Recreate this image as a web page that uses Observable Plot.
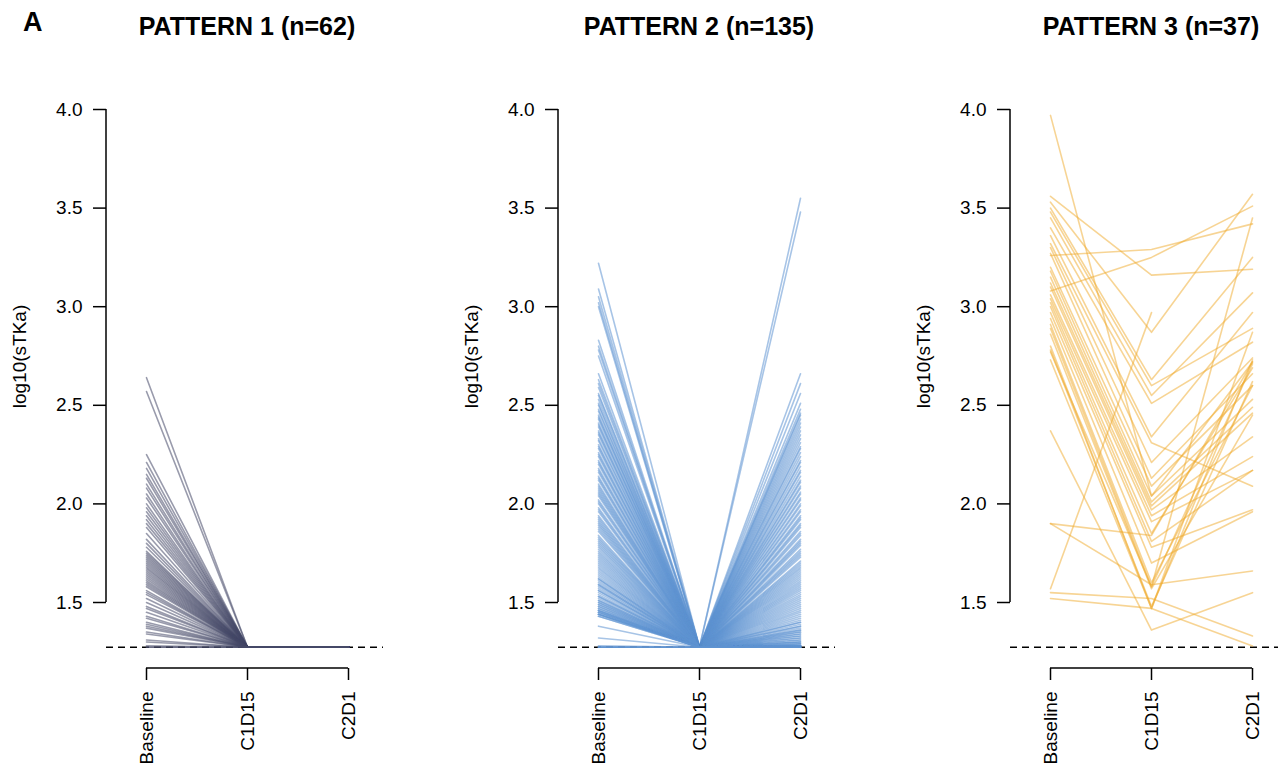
<!DOCTYPE html>
<html><head><meta charset="utf-8">
<script src="https://cdn.jsdelivr.net/npm/d3@7"></script>
<script src="https://cdn.jsdelivr.net/npm/@observablehq/plot@0.6"></script>
<style>
body{margin:0;background:#fff;font-family:"Liberation Sans",Arial,sans-serif;}
#fig{position:relative;width:1278px;height:769px;overflow:hidden;background:#fff;}
.panel{position:absolute;top:0;width:400px;height:769px;}
.panel svg{max-width:none !important;}
.title{position:absolute;top:14px;left:47px;width:400px;text-align:center;font-weight:bold;font-size:25px;line-height:25px;color:#000;white-space:nowrap;z-index:2;}
.tag{position:absolute;left:23px;top:9px;font-weight:bold;font-size:27px;line-height:27px;color:#000;z-index:2;}
</style></head><body><div id="fig"><div class="tag">A</div></div>
<script>
const visits = ["Baseline", "C1D15", "C2D1"];
const yTicks = [1.5, 2.0, 2.5, 3.0, 3.5, 4.0];
const LLOQ = 1.273;
const titles = ["PATTERN 1 (n=62)", "PATTERN 2 (n=135)", "PATTERN 3 (n=37)"];
const colors = ["#454967", "#5e93d2", "#f0aa2a"];

// Pattern 1: baseline values; C1D15 and C2D1 at LLOQ
const p1Baseline = [2.64, 2.57, 2.25, 2.21, 2.18, 2.15, 2.13, 2.10, 2.08, 2.05,
  2.03, 2.00, 1.98, 1.96, 1.94, 1.92, 1.90, 1.88, 1.85, 1.82,
  1.80, 1.78, 1.76, 1.75, 1.74, 1.73, 1.72, 1.71, 1.70, 1.69,
  1.68, 1.67, 1.66, 1.65, 1.64, 1.63, 1.62, 1.61, 1.60, 1.59,
  1.58, 1.56, 1.55, 1.54, 1.52, 1.50, 1.48, 1.47, 1.45, 1.43,
  1.42, 1.40, 1.39, 1.38, 1.37, 1.35, 1.34, 1.31, 1.30, 1.28,
  LLOQ, LLOQ];
const p1C1D15 = p1Baseline.map(() => LLOQ);
const p1C2D1 = p1Baseline.map(() => LLOQ);

// Pattern 2
const p2Baseline = [3.22, 3.09, 3.05, 3.02, 3.00, 2.83, 2.80, 2.78, 2.75, 2.66,
  2.63, 2.61, 2.59, 2.56, 2.55, 2.53, 2.51, 2.50, 2.48, 2.47,
  2.45, 2.44, 2.43, 2.41, 2.40, 2.39, 2.37, 2.36, 2.35, 2.33,
  2.32, 2.30, 2.29, 2.28, 2.26, 2.25, 2.24, 2.22, 2.21, 2.20,
  2.18, 2.17, 2.16, 2.14, 2.13, 2.12, 2.10, 2.09, 2.08, 2.06,
  2.05, 2.04, 2.02, 2.01, 2.00, 1.98, 1.97, 1.96, 1.94, 1.93,
  1.92, 1.91, 1.89, 1.88, 1.87, 1.86, 1.84, 1.83, 1.82, 1.81,
  1.80, 1.78, 1.77, 1.76, 1.75, 1.74, 1.73, 1.72, 1.70, 1.69,
  1.68, 1.67, 1.66, 1.65, 1.64, 1.63, 1.62, 1.61, 1.60, 1.59,
  1.59, 1.58, 1.57, 1.56, 1.56, 1.55, 1.54, 1.53, 1.53, 1.52,
  1.51, 1.51, 1.50, 1.50, 1.49, 1.49, 1.48, 1.48, 1.47, 1.47,
  1.46, 1.46, 1.46, 1.45, 1.45, 1.45, 1.44, 1.44, 1.44, 1.44,
  1.62, 1.71, 1.79, 1.90, 2.07,
  1.43, 1.43, 1.38, 1.32, 1.28, LLOQ, LLOQ, LLOQ, LLOQ, LLOQ];
const p2C1D15 = p2Baseline.map(() => LLOQ);
const p2C2D1 = [3.55, 3.48, 2.66, 2.61, 2.56, 2.51, 2.48, 2.46, 2.45, 2.43,
  2.41, 2.39, 2.37, 2.35, 2.33, 2.31, 2.29, 2.28, 2.26, 2.24,
  2.22, 2.21, 2.19, 2.17, 2.16, 2.14, 2.12, 2.11, 2.09, 2.08,
  2.06, 2.05, 2.03, 2.02, 2.00, 1.99, 1.97, 1.96, 1.94, 1.93,
  1.92, 1.90, 1.89, 1.88, 1.86, 1.85, 1.84, 1.82, 1.81, 1.80,
  1.79, 1.77, 1.76, 1.75, 1.74, 1.73, 1.71, 1.70, 1.69, 1.68,
  1.67, 1.66, 1.65, 1.64, 1.63, 1.62, 1.61, 1.60, 1.59, 1.58,
  1.57, 1.56, 1.55, 1.54, 1.53, 1.52, 1.51, 1.50, 1.49, 1.48,
  1.47, 1.46, 1.45, 1.44, 1.43, 1.42, 1.41, 1.40, 1.40, 1.39,
  1.38, 1.38, 1.37, 1.36, 1.36, 1.35, 1.35, 1.34, 1.34, 1.33,
  1.33, 1.32, 1.32, 1.31, 1.31, 1.30, 1.30, 1.30, 1.29, 1.29,
  1.29, 1.28, 1.28, 1.28, 1.28, 1.28, 1.28, 1.28, 1.28, 1.28,
  LLOQ, LLOQ, LLOQ, LLOQ, LLOQ, LLOQ, LLOQ, LLOQ, LLOQ, LLOQ,
  LLOQ, LLOQ, LLOQ, LLOQ, LLOQ];

// Pattern 3
const p3Baseline = [3.97, 3.56, 3.26, 3.08, 3.53, 1.57, 2.37, 1.90, 1.90, 1.55,
  1.52, 3.50, 3.48, 3.45, 3.40, 3.36, 3.32, 3.30, 3.27, 3.20,
  3.18, 3.15, 3.12, 3.10, 3.06, 3.04, 3.02, 3.00, 2.97, 2.94,
  2.91, 2.89, 2.86, 2.80, 2.78, 2.77, 2.73];
const p3C1D15 = [2.04, 3.16, 3.29, 3.25, 2.87, 2.97, 1.36, 1.84, 1.59, 1.52,
  1.47, 2.63, 2.60, 2.55, 2.51, 2.34, 2.31, 2.21, 2.13, 2.09,
  2.04, 2.01, 1.99, 1.97, 1.94, 1.91, 1.85, 1.81, 1.78, 1.70,
  1.60, 1.58, 1.57, 1.47, 1.48, 1.58, 1.47];
const p3C2D1 = [2.72, 3.19, 3.42, 3.51, 3.57, null, 1.55, 2.72, 1.66, 1.33,
  1.28, 3.25, 2.89, 3.07, 2.82, 2.97, 2.09, 2.74, 2.66, 2.60,
  2.53, 2.49, 2.46, 2.34, 2.24, 2.17, 2.69, 2.17, 1.97, 1.96,
  2.60, 2.71, 2.45, 2.73, 2.62, 3.45, 2.87];

const patterns = [
  [p1Baseline, p1C1D15, p1C2D1],
  [p2Baseline, p2C1D15, p2C2D1],
  [p3Baseline, p3C1D15, p3C2D1]
];
const opacities = [0.55, 0.55, 0.5];

function toRows(series) {
  const rows = [];
  series[0].forEach((_, i) => {
    visits.forEach((v, j) => {
      const val = series[j][i];
      rows.push({id: i, visit: v, value: val == null ? NaN : val});
    });
  });
  return rows;
}

function axisLines(index, scales, values, dims) {
  const g = d3.create("svg:g").attr("stroke", "black").attr("stroke-width", 1.5).attr("fill", "none");
  g.append("line")
    .attr("x1", dims.marginLeft).attr("x2", dims.marginLeft)
    .attr("y1", scales.y(yTicks[0])).attr("y2", scales.y(yTicks[yTicks.length - 1]));
  const fb = dims.height - dims.marginBottom;
  g.append("line")
    .attr("x1", scales.x(visits[0])).attr("x2", scales.x(visits[visits.length - 1]))
    .attr("y1", fb).attr("y2", fb);
  return g.node();
}

const fig = document.getElementById("fig");
patterns.forEach((series, k) => {
  const panel = document.createElement("div");
  panel.className = "panel";
  panel.style.left = (k * 452) + "px";
  const t = document.createElement("div");
  t.className = "title";
  t.textContent = titles[k];
  panel.appendChild(t);
  const chart = Plot.plot({
    width: 400, height: 769,
    marginLeft: 106, marginRight: 17, marginTop: 44, marginBottom: 101,
    style: {fontFamily: "'Liberation Sans', Arial, sans-serif", fontSize: "19px", background: "transparent", overflow: "visible", color: "black"},
    x: {type: "point", domain: visits, range: [146, 348], padding: 0},
    y: {domain: [yTicks[0], yTicks[yTicks.length - 1]], range: [602, 109]},
    marks: [
      Plot.ruleY([LLOQ], {stroke: "black", strokeWidth: 1.5, strokeDasharray: "7,5"}),
      Plot.line(toRows(series), {x: "visit", y: "value", z: "id", stroke: colors[k], strokeOpacity: opacities[k], strokeWidth: 1.6}),
      Plot.axisY({ticks: yTicks, tickFormat: d3.format(".1f"), tickSize: 13, tickPadding: 11, strokeWidth: 1.5,
        label: "log10(sTKa)", labelAnchor: "center", labelArrow: "none", labelOffset: 94, fontSize: 19}),
      Plot.axisX({tickRotate: -90, tickSize: 12, tickPadding: 11, strokeWidth: 1.5, label: null, fontSize: 19}),
      axisLines
    ]
  });
  chart.style.position = "absolute";
  chart.style.left = "0px";
  chart.style.top = "0px";
  chart.style.width = "400px";
  chart.style.height = "769px";
  panel.appendChild(chart);
  fig.appendChild(panel);
});
</script>
</body></html>
